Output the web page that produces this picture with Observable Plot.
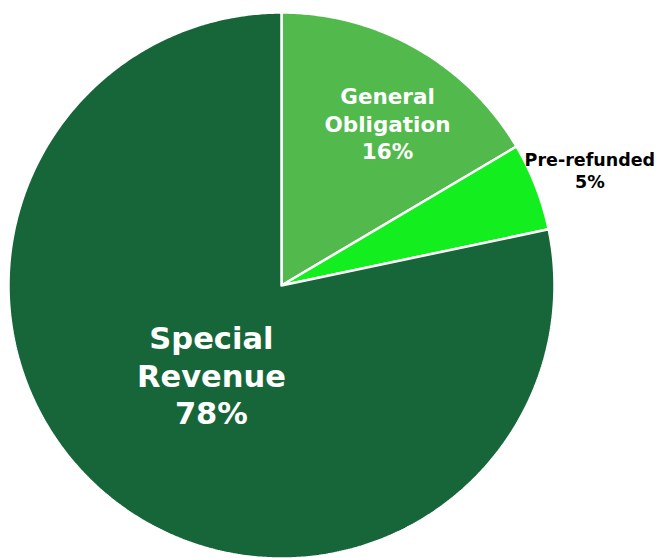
<!DOCTYPE html>
<html><head><meta charset="utf-8">
<script src="https://cdn.jsdelivr.net/npm/d3@7"></script>
<script src="https://cdn.jsdelivr.net/npm/@observablehq/plot@0.6"></script>
<style>body{margin:0;background:#fff}</style>
</head><body><div id="chart"></div>
<script>
const categories = ["General Obligation", "Pre-refunded", "Special Revenue"];
const shares = [16.5, 5.2, 78.3];
const labels = ["General\nObligation\n16%", "Pre-refunded\n5%", "Special\nRevenue\n78%"];
const colors = ["#52B94C", "#12EE1E", "#17663A"];

// style settings for labels
const labelRadius = [0.71, 1.2, 0.425];
const labelDx = [10, 3, 3];
const labelDy = [6, 3, -1];
const labelSize = [21.5, 17.5, 30.5];
const labelColor = ["white", "black", "white"];
const labelLine = [1.28, 1.25, 1.22];

const R = 273;
const pie = d3.pie().sort(null).value(d => d)(shares);
const slices = [];
pie.forEach((p, i) => {
  const n = Math.max(2, Math.ceil((p.endAngle - p.startAngle) * 120));
  slices.push({cat: categories[i], x: 0, y: 0});
  for (let k = 0; k <= n; k++) {
    const a = p.startAngle + (p.endAngle - p.startAngle) * k / n;
    slices.push({cat: categories[i], x: R * Math.sin(a), y: R * Math.cos(a)});
  }
  slices.push({cat: categories[i], x: 0, y: 0});
});
const labelData = pie.map((p, i) => {
  const a = (p.startAngle + p.endAngle) / 2;
  const r = R * labelRadius[i];
  return {text: labels[i], x: r * Math.sin(a), y: r * Math.cos(a), i};
});

const textMarks = labelData.map(d => Plot.text([d], {
  x: "x", y: "y", text: "text",
  dx: labelDx[d.i], dy: labelDy[d.i],
  fill: labelColor[d.i], fontSize: labelSize[d.i], fontWeight: "bold",
  lineHeight: labelLine[d.i], textAnchor: "middle"
}));

const chart = Plot.plot({
  width: 660, height: 558,
  margin: 0,
  x: {domain: [-281, 379], axis: null},
  y: {domain: [-273, 285], axis: null},
  color: {domain: categories, range: colors},
  style: {fontFamily: "'DejaVu Sans', Verdana, sans-serif", background: "white"},
  marks: [
    Plot.line(slices, {x: "x", y: "y", z: "cat", fill: "cat", stroke: "white", strokeWidth: 2.5, strokeLinejoin: "miter", curve: "linear"}),
    ...textMarks
  ]
});
document.getElementById("chart").appendChild(chart);
</script>
</body></html>
